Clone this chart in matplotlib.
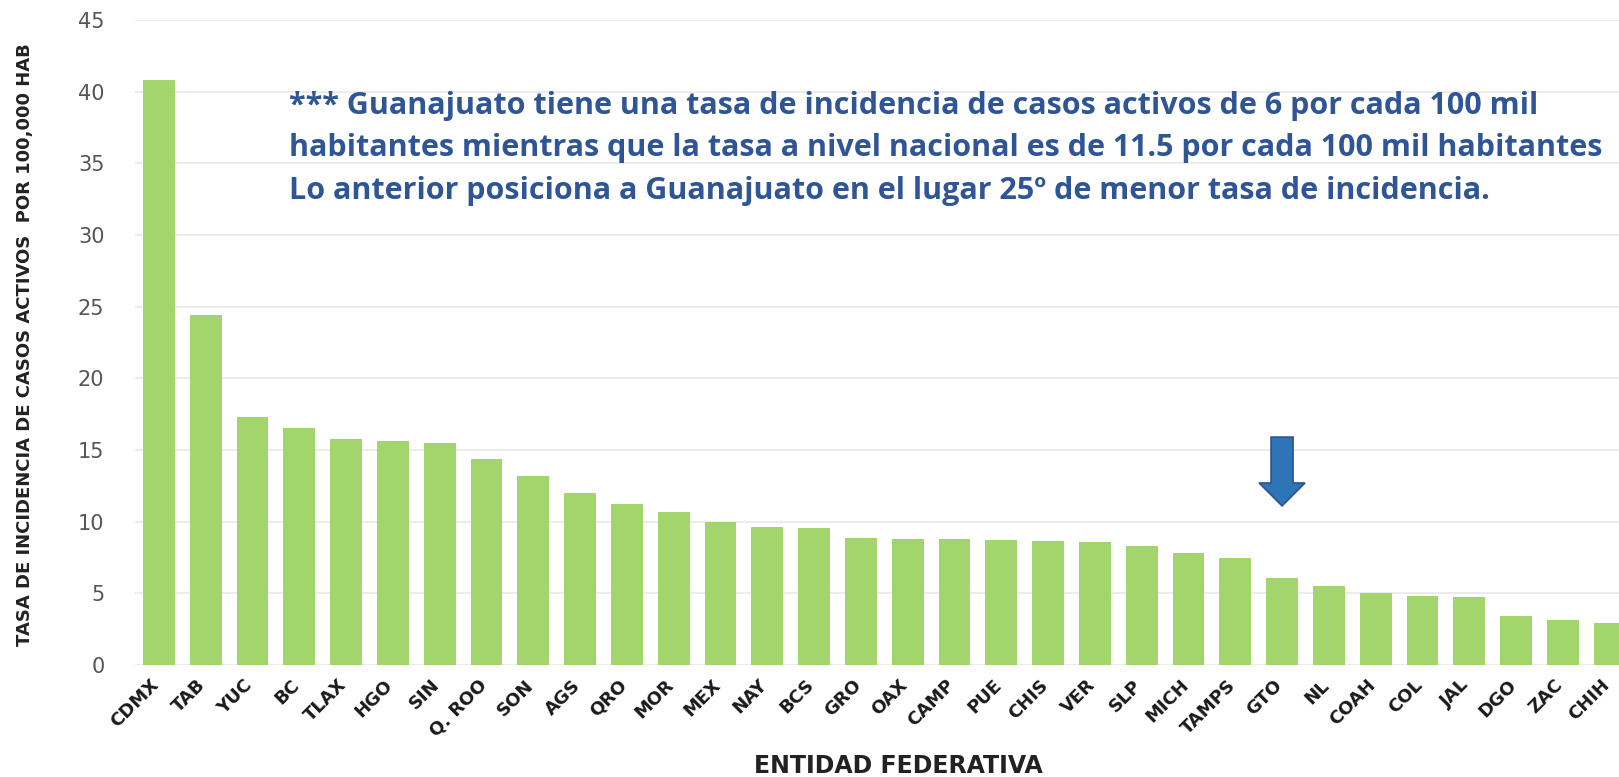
import matplotlib.pyplot as plt
import matplotlib.transforms as mtransforms
from matplotlib.patches import FancyArrow

# Data
estados = ["CDMX", "TAB", "YUC", "BC", "TLAX", "HGO", "SIN", "Q. ROO", "SON", "AGS",
           "QRO", "MOR", "MEX", "NAY", "BCS", "GRO", "OAX", "CAMP", "PUE", "CHIS",
           "VER", "SLP", "MICH", "TAMPS", "GTO", "NL", "COAH", "COL", "JAL", "DGO",
           "ZAC", "CHIH"]
tasa = [40.8, 24.45, 17.3, 16.55, 15.75, 15.6, 15.5, 14.4, 13.2, 12.0,
        11.2, 10.7, 10.0, 9.6, 9.55, 8.85, 8.8, 8.8, 8.7, 8.65,
        8.55, 8.3, 7.8, 7.5, 6.05, 5.5, 5.05, 4.8, 4.75, 3.45,
        3.15, 2.9]
y_ticks = [0, 5, 10, 15, 20, 25, 30, 35, 40, 45]
nota = ("*** Guanajuato tiene una tasa de incidencia de casos activos de 6 por cada 100 mil\n"
        "habitantes mientras que la tasa a nivel nacional es de 11.5 por cada 100 mil habitantes\n"
        "Lo anterior posiciona a Guanajuato en el lugar 25º de menor tasa de incidencia.")
idx_gto = estados.index("GTO")

fig = plt.figure(figsize=(16.19, 7.77), dpi=100)
ax = fig.add_axes([135 / 1619, 1 - 665 / 777, 1 - 135 / 1619, (665 - 20) / 777])

x = range(len(estados))
ax.bar(x, tasa, width=0.68, color="#a2d56b", zorder=2)

ax.set_ylim(0, 45)
ax.set_xlim(-0.51, 31.2)
ax.set_yticks(y_ticks)
ax.yaxis.grid(True, color="#ececec", linewidth=1.5, zorder=0)
for s in ax.spines.values():
    s.set_visible(False)
ax.tick_params(axis="both", length=0)
ax.tick_params(axis="y", pad=22, labelsize=15, labelcolor="#555555")

ax.set_xticks(list(x))
ax.set_xticklabels(estados, rotation=45, ha="right", rotation_mode="anchor",
                   fontsize=13, fontweight="bold", color="#1a1a1a")
ax.tick_params(axis="x", pad=8)
# shift labels a bit left so the rotated text ends near the bar centre
offset = mtransforms.ScaledTranslation(-0.09, 0, fig.dpi_scale_trans)
for lab in ax.get_xticklabels():
    lab.set_transform(lab.get_transform() + offset)

fig.text(25 / 1619, 1 - 345 / 777, "TASA DE INCIDENCIA DE CASOS ACTIVOS  POR 100,000 HAB",
         rotation=90, ha="center", va="center", fontsize=13, fontweight="bold",
         color="#222222")
fig.text(898 / 1619, 1 - 766 / 777, "ENTIDAD FEDERATIVA", ha="center", va="center",
         fontsize=17, fontweight="bold", color="#222222")

fig.text(289 / 1619, 1 - 91 / 777, nota, ha="left", va="top", fontsize=22.0,
         fontweight="bold", family="Open Sans", color="#2f5597", linespacing=1.54)

arrow = FancyArrow(idx_gto, 15.9, 0, -4.8, width=0.47, head_width=0.98,
                   head_length=1.6, length_includes_head=True,
                   facecolor="#2e75b6", edgecolor="#2f528f", linewidth=1.2, zorder=3)
ax.add_patch(arrow)

fig.savefig("out.png", dpi=100)
